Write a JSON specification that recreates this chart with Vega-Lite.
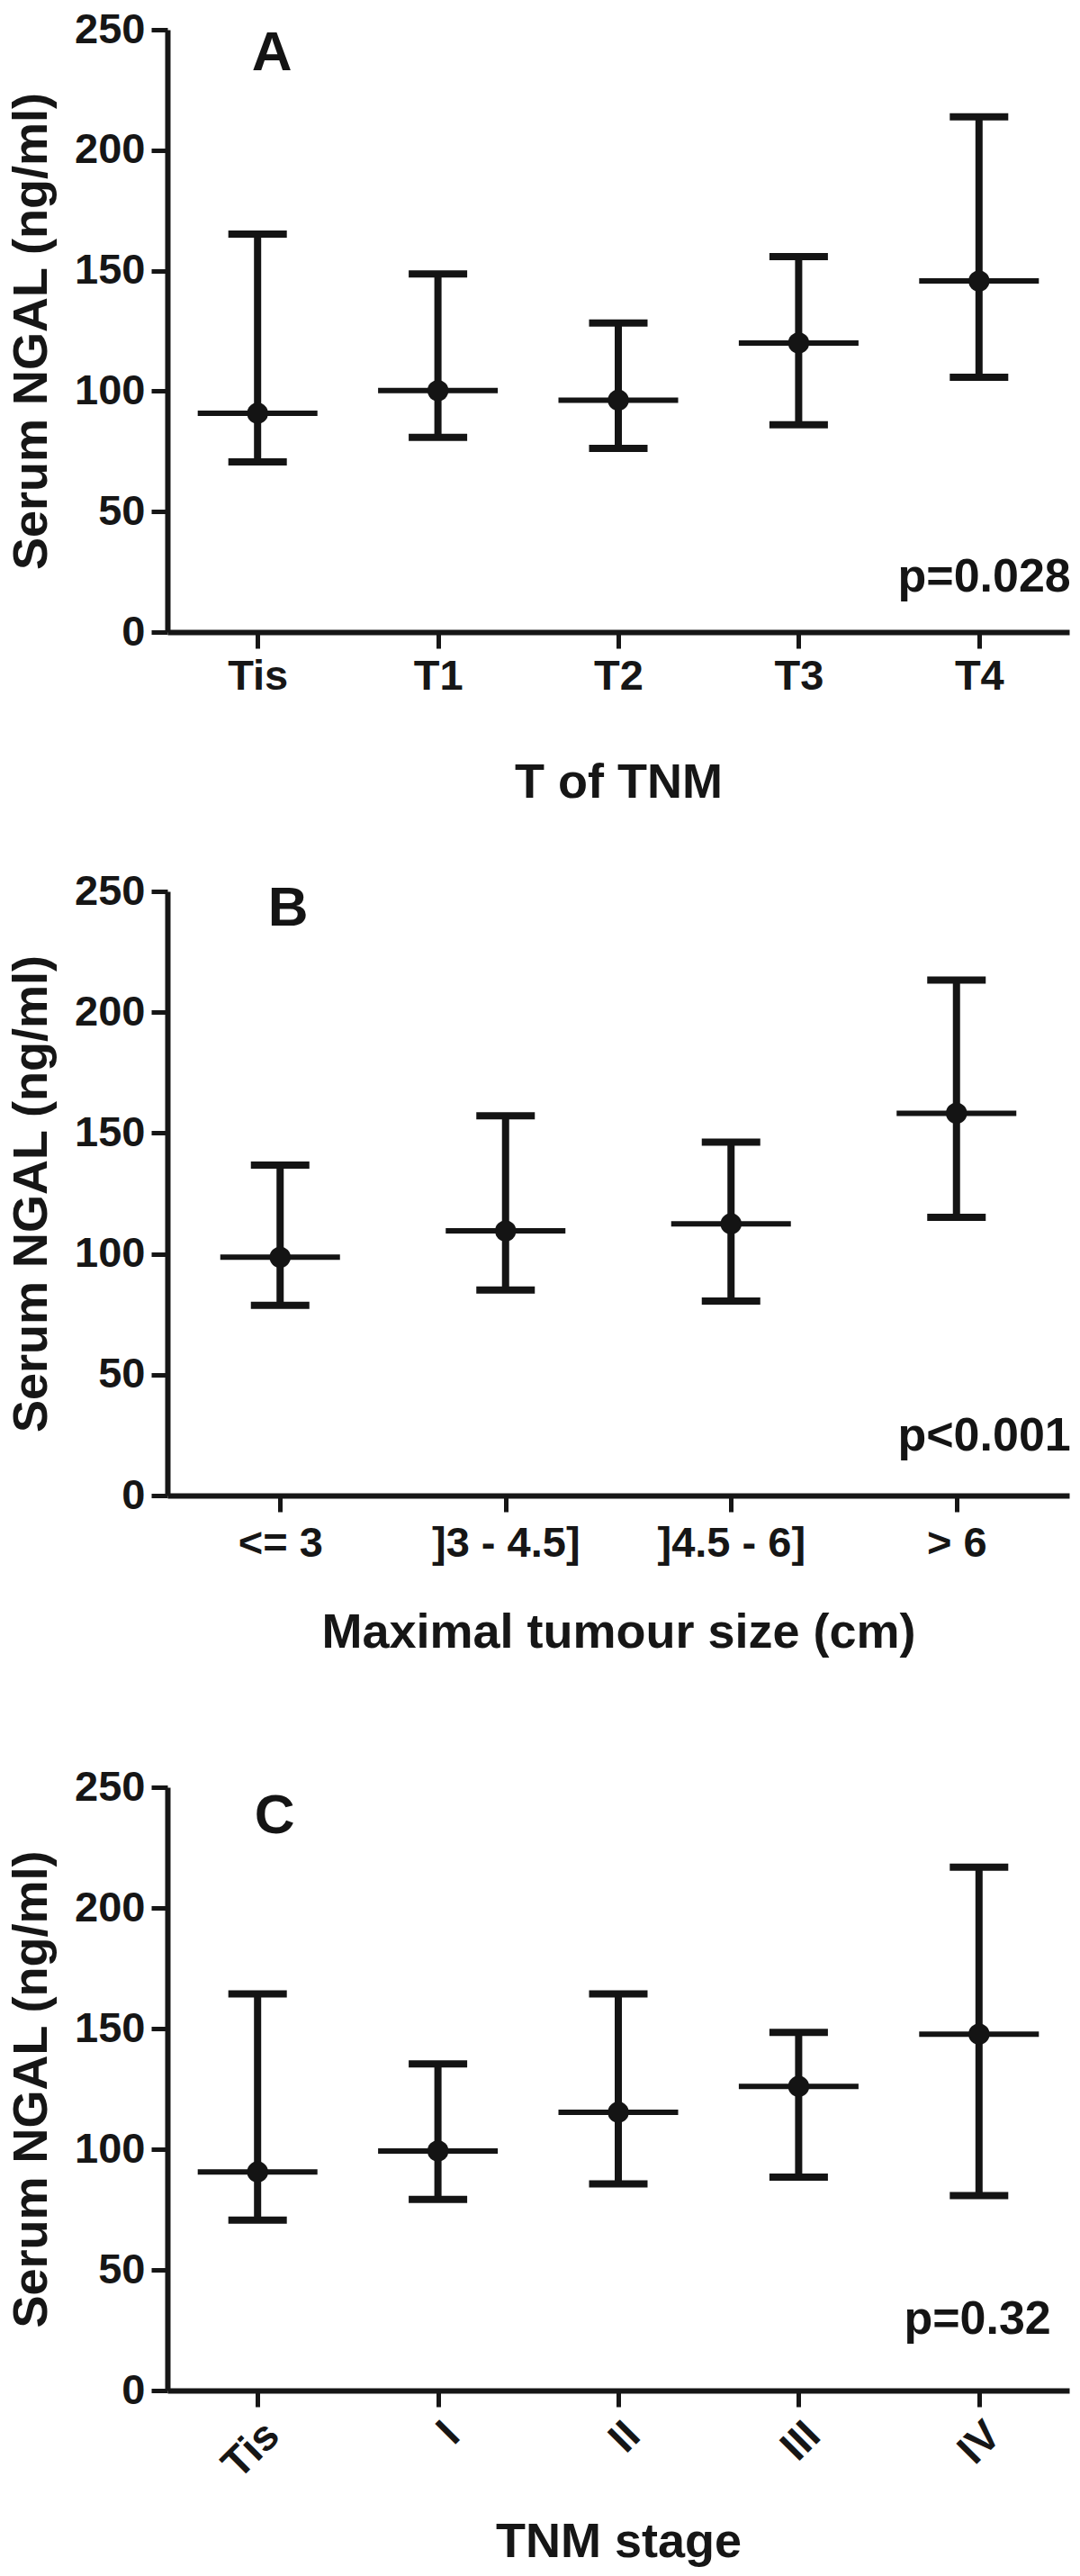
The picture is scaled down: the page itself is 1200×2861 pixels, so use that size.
{
  "$schema": "https://vega.github.io/schema/vega-lite/v6.json",
  "background": "white",
  "padding": {"left": 8, "top": 9, "right": 4, "bottom": 6},
  "spacing": 70,
  "datasets": {
    "A": [
      {"cat": "Tis", "mean": 90.8, "low": 70.6, "high": 165.2},
      {"cat": "T1", "mean": 100.2, "low": 80.8, "high": 148.6},
      {"cat": "T2", "mean": 96.2, "low": 76.2, "high": 128.3},
      {"cat": "T3", "mean": 120.0, "low": 86.0, "high": 155.8},
      {"cat": "T4", "mean": 145.7, "low": 105.8, "high": 213.8}
    ],
    "B": [
      {"cat": "<= 3", "mean": 98.6, "low": 78.7, "high": 136.7},
      {"cat": "]3 - 4.5]", "mean": 109.5, "low": 85.0, "high": 157.1},
      {"cat": "]4.5 - 6]", "mean": 112.4, "low": 80.5, "high": 146.2},
      {"cat": "> 6", "mean": 158.2, "low": 115.1, "high": 213.3}
    ],
    "C": [
      {"cat": "Tis", "mean": 90.6, "low": 70.6, "high": 164.4},
      {"cat": "I", "mean": 99.3, "low": 79.2, "high": 135.4},
      {"cat": "II", "mean": 115.3, "low": 85.6, "high": 164.4},
      {"cat": "III", "mean": 126.0, "low": 88.4, "high": 148.4},
      {"cat": "IV", "mean": 147.7, "low": 80.8, "high": 216.9}
    ]
  },
  "vconcat": [
    {
      "width": 1002, "height": 669,
      "data": {"name": "A"},
      "encoding": {
        "x": {"field": "cat", "type": "nominal", "scale": {"type": "point", "padding": 0.5, "domain": ["Tis", "T1", "T2", "T3", "T4"]}, "axis": {"title": "T of TNM", "labelAngle": 0, "titlePadding": 68}}
      },
      "layer": [
        {"mark": {"type": "rule", "strokeWidth": 8, "color": "#141414"}, "encoding": {"y": {"field": "low", "type": "quantitative", "title": "Serum NGAL (ng/ml)", "scale": {"domain": [0, 250], "nice": false}, "axis": {"values": [0, 50, 100, 150, 200, 250]}}, "y2": {"field": "high"}}},
        {"mark": {"type": "tick", "size": 65, "thickness": 8, "color": "#141414", "opacity": 1}, "encoding": {"y": {"field": "low", "type": "quantitative", "title": "Serum NGAL (ng/ml)"}}},
        {"mark": {"type": "tick", "size": 65, "thickness": 8, "color": "#141414", "opacity": 1}, "encoding": {"y": {"field": "high", "type": "quantitative", "title": "Serum NGAL (ng/ml)"}}},
        {"mark": {"type": "tick", "size": 133, "thickness": 6, "color": "#141414", "opacity": 1}, "encoding": {"y": {"field": "mean", "type": "quantitative", "title": "Serum NGAL (ng/ml)"}}},
        {"mark": {"type": "point", "filled": true, "size": 550, "opacity": 1, "color": "#141414"}, "encoding": {"y": {"field": "mean", "type": "quantitative", "title": "Serum NGAL (ng/ml)"}}},
        {"data": {"values": [{}]}, "mark": {"type": "text", "text": "A", "font": "Liberation Sans", "fontSize": 62, "fontWeight": "bold", "color": "#141414", "align": "center", "baseline": "alphabetic", "dx": 16}, "encoding": {"x": {"datum": "Tis"}, "y": {"datum": 233}}},
        {"data": {"values": [{}]}, "mark": {"type": "text", "text": "p=0.028", "font": "Liberation Sans", "fontSize": 52, "fontWeight": "bold", "color": "#141414", "align": "right", "baseline": "alphabetic", "dx": 102}, "encoding": {"x": {"datum": "T4"}, "y": {"datum": 17}}}
      ]
    },
    {
      "width": 1002, "height": 671,
      "data": {"name": "B"},
      "encoding": {
        "x": {"field": "cat", "type": "nominal", "scale": {"type": "point", "padding": 0.5, "domain": ["<= 3", "]3 - 4.5]", "]4.5 - 6]", "> 6"]}, "axis": {"title": "Maximal tumour size (cm)", "labelAngle": 0, "titlePadding": 49, "labelPadding": 12}}
      },
      "layer": [
        {"mark": {"type": "rule", "strokeWidth": 8, "color": "#141414"}, "encoding": {"y": {"field": "low", "type": "quantitative", "title": "Serum NGAL (ng/ml)", "scale": {"domain": [0, 250], "nice": false}, "axis": {"values": [0, 50, 100, 150, 200, 250]}}, "y2": {"field": "high"}}},
        {"mark": {"type": "tick", "size": 65, "thickness": 8, "color": "#141414", "opacity": 1}, "encoding": {"y": {"field": "low", "type": "quantitative", "title": "Serum NGAL (ng/ml)"}}},
        {"mark": {"type": "tick", "size": 65, "thickness": 8, "color": "#141414", "opacity": 1}, "encoding": {"y": {"field": "high", "type": "quantitative", "title": "Serum NGAL (ng/ml)"}}},
        {"mark": {"type": "tick", "size": 133, "thickness": 6, "color": "#141414", "opacity": 1}, "encoding": {"y": {"field": "mean", "type": "quantitative", "title": "Serum NGAL (ng/ml)"}}},
        {"mark": {"type": "point", "filled": true, "size": 550, "opacity": 1, "color": "#141414"}, "encoding": {"y": {"field": "mean", "type": "quantitative", "title": "Serum NGAL (ng/ml)"}}},
        {"data": {"values": [{}]}, "mark": {"type": "text", "text": "B", "font": "Liberation Sans", "fontSize": 62, "fontWeight": "bold", "color": "#141414", "align": "center", "baseline": "alphabetic", "dx": 9}, "encoding": {"x": {"datum": "<= 3"}, "y": {"datum": 236}}},
        {"data": {"values": [{}]}, "mark": {"type": "text", "text": "p<0.001", "font": "Liberation Sans", "fontSize": 52, "fontWeight": "bold", "color": "#141414", "align": "right", "baseline": "alphabetic", "dx": 127}, "encoding": {"x": {"datum": "> 6"}, "y": {"datum": 18.6}}}
      ]
    },
    {
      "width": 1002, "height": 670,
      "title": {"text": " ", "fontSize": 30, "offset": 21},
      "data": {"name": "C"},
      "encoding": {
        "x": {"field": "cat", "type": "nominal", "scale": {"type": "point", "padding": 0.5, "domain": ["Tis", "I", "II", "III", "IV"]}, "axis": {"title": "TNM stage", "labelAngle": -45, "titlePadding": 36}}
      },
      "layer": [
        {"mark": {"type": "rule", "strokeWidth": 8, "color": "#141414"}, "encoding": {"y": {"field": "low", "type": "quantitative", "title": "Serum NGAL (ng/ml)", "scale": {"domain": [0, 250], "nice": false}, "axis": {"values": [0, 50, 100, 150, 200, 250]}}, "y2": {"field": "high"}}},
        {"mark": {"type": "tick", "size": 65, "thickness": 8, "color": "#141414", "opacity": 1}, "encoding": {"y": {"field": "low", "type": "quantitative", "title": "Serum NGAL (ng/ml)"}}},
        {"mark": {"type": "tick", "size": 65, "thickness": 8, "color": "#141414", "opacity": 1}, "encoding": {"y": {"field": "high", "type": "quantitative", "title": "Serum NGAL (ng/ml)"}}},
        {"mark": {"type": "tick", "size": 133, "thickness": 6, "color": "#141414", "opacity": 1}, "encoding": {"y": {"field": "mean", "type": "quantitative", "title": "Serum NGAL (ng/ml)"}}},
        {"mark": {"type": "point", "filled": true, "size": 550, "opacity": 1, "color": "#141414"}, "encoding": {"y": {"field": "mean", "type": "quantitative", "title": "Serum NGAL (ng/ml)"}}},
        {"data": {"values": [{}]}, "mark": {"type": "text", "text": "C", "font": "Liberation Sans", "fontSize": 62, "fontWeight": "bold", "color": "#141414", "align": "center", "baseline": "alphabetic", "dx": 19}, "encoding": {"x": {"datum": "Tis"}, "y": {"datum": 231}}},
        {"data": {"values": [{}]}, "mark": {"type": "text", "text": "p=0.32", "font": "Liberation Sans", "fontSize": 52, "fontWeight": "bold", "color": "#141414", "align": "right", "baseline": "alphabetic", "dx": 80}, "encoding": {"x": {"datum": "IV"}, "y": {"datum": 23.5}}}
      ]
    }
  ],
  "config": {
    "view": {"stroke": null},
    "font": "Liberation Sans",
    "axis": {
      "grid": false,
      "domainColor": "#161616", "domainWidth": 6,
      "tickColor": "#161616", "tickWidth": 5, "tickSize": 18,
      "labelFont": "Liberation Sans", "labelFontSize": 47, "labelFontWeight": "bold", "labelColor": "#161616", "labelPadding": 7,
      "titleFont": "Liberation Sans", "titleFontSize": 54, "titleFontWeight": "bold", "titleColor": "#161616"
    },
    "axisX": {"labelPadding": 8},
    "axisY": {"titlePadding": 20}
  }
}
